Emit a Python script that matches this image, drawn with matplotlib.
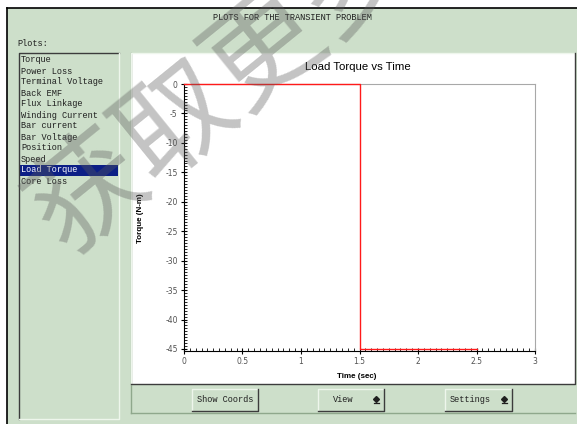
"""Load torque vs time — transient problem plot window (GUI screenshot)"""

import matplotlib
matplotlib.use("Agg")
import matplotlib.pyplot as plt
from matplotlib.patches import Rectangle
from matplotlib.ticker import MultipleLocator

W, H = 577, 424

# ── Data ────────────────────────────────────────────────────────────────────

time_s = [0.0, 1.5, 1.5, 2.5]
load_torque = [0.0, 0.0, -45.0, -45.0]

x_ticks = [0, 0.5, 1, 1.5, 2, 2.5, 3]
x_tick_labels = ["0", "0.5", "1", "1.5", "2", "2.5", "3"]
y_ticks = [0, -5, -10, -15, -20, -25, -30, -35, -40, -45]
y_tick_labels = ["0", "-5", "-10", "-15", "-20", "-25", "-30", "-35", "-40", "-45"]

plot_items = [
    "Torque", "Power Loss", "Terminal Voltage", "Back EMF", "Flux Linkage",
    "Winding Current", "Bar current", "Bar Voltage", "Position", "Speed",
    "Load Torque", "Core Loss",
]
selected_item = "Load Torque"
buttons = ["Show Coords", "View", "Settings"]

# ── Style ───────────────────────────────────────────────────────────────────

GREEN = "#cddfca"
DARK = "#3c3c3c"
LIGHT = "#eef6ec"
MONO = ["Liberation Mono", "DejaVu Sans Mono"]
SANS = ["Liberation Sans", "DejaVu Sans"]


def frac(x0, y0, x1, y1):
    """pixel box (top-down) -> figure fraction [l, b, w, h]"""
    return [x0 / W, (H - y1) / H, (x1 - x0) / W, (y1 - y0) / H]


def bevel(ax, x0, y0, x1, y1, sunken=False, lw=1.0):
    hi, lo = (DARK, LIGHT) if sunken else (LIGHT, DARK)
    ax.plot([x0, x0, x1], [y1, y0, y0], color=hi, lw=lw, zorder=3)
    ax.plot([x0, x1, x1], [y1, y1, y0], color=lo, lw=lw, zorder=3)


fig = plt.figure(figsize=(W / 100, H / 100), dpi=100)
fig.patch.set_facecolor("white")

# GUI layer in pixel coordinates
gui = fig.add_axes([0, 0, 1, 1])
gui.set_xlim(0, W)
gui.set_ylim(H, 0)
gui.axis("off")

gui.add_patch(Rectangle((7, 8), W - 7, H - 8, facecolor=GREEN, edgecolor="none"))
gui.plot([7, W], [8, 8], color="black", lw=1.2)
gui.plot([7, 7], [8, H], color="black", lw=1.2)

gui.text(292, 17, "PLOTS FOR THE TRANSIENT PROBLEM", family=MONO, fontsize=6.2,
         color="#202020", ha="center", va="center")
gui.text(17, 44, "Plots:", family=MONO, fontsize=6.2, color="#202020",
         ha="left", va="center")

# list box
gui.add_patch(Rectangle((19, 53), 100, 366, facecolor=GREEN, edgecolor="none"))
bevel(gui, 19, 53, 119, 419, sunken=True)
for i, item in enumerate(plot_items):
    y = 60 + i * 11
    if item == selected_item:
        gui.add_patch(Rectangle((20, y - 5.5), 98, 11, facecolor="#0c1f86",
                                edgecolor="none", zorder=2))
        col = "white"
    else:
        col = "#202020"
    gui.text(21, y, item, family=MONO, fontsize=6.2, color=col,
             ha="left", va="center", zorder=4)

# plot panel + button bar
gui.add_patch(Rectangle((131, 53), 444, 331, facecolor="white", edgecolor="none"))
bevel(gui, 131, 53, 575, 384, sunken=False)
gui.plot([131, 131], [53, 413], color="#8fa88c", lw=1)
gui.plot([131, 575], [413, 413], color="#8fa88c", lw=1)

btn_boxes = [(192, 258), (318, 384), (445, 512)]
for label, (bx0, bx1) in zip(buttons, btn_boxes):
    gui.add_patch(Rectangle((bx0, 389), bx1 - bx0, 22, facecolor=GREEN,
                            edgecolor="none", zorder=2))
    bevel(gui, bx0, 389, bx1, 411, sunken=False)
    if label == "Show Coords":
        gui.text((bx0 + bx1) / 2, 400, label, family=MONO, fontsize=6.2,
                 color="#202020", ha="center", va="center", zorder=4)
    else:
        gui.text((bx0 + bx1) / 2 - 8, 400, label, family=MONO, fontsize=6.2,
                 color="#202020", ha="center", va="center", zorder=4)
        gui.plot([bx1 - 8], [398.5], marker="D", ms=3.0, color="#202020", zorder=4)
        gui.plot([bx1 - 10.5, bx1 - 5.5], [402.5, 402.5], color="#202020",
                 lw=0.9, zorder=4)

gui.text(358, 67, "Load Torque vs Time", family=SANS, fontsize=8.2,
         color="black", ha="center", va="center")
gui.text(357, 377, "Time (sec)", family=SANS, fontsize=5.8, weight="bold",
         color="black", ha="center", va="center")
gui.text(140, 218, "Torque (N-m)", family=SANS, fontsize=5.8, weight="bold",
         color="black", ha="center", va="center", rotation=90)

# ── Plot ────────────────────────────────────────────────────────────────────

ax = fig.add_axes(frac(184, 84, 535, 351))
ax.set_facecolor("white")
ax.plot(time_s, load_torque, color="#ff1a1a", lw=1.0, clip_on=False, zorder=5)
ax.set_xlim(0, 3)
ax.set_ylim(-45.35, 0)

ax.set_xticks(x_ticks)
ax.set_xticklabels(x_tick_labels)
ax.set_yticks(y_ticks)
ax.set_yticklabels(y_tick_labels)
ax.xaxis.set_minor_locator(MultipleLocator(0.05))
ax.yaxis.set_minor_locator(MultipleLocator(0.5))
ax.tick_params(axis="both", which="major", direction="inout", length=5,
               width=0.8, labelsize=5.5, labelcolor="#505050", pad=2)
ax.tick_params(axis="x", which="major", pad=1.5)
ax.tick_params(axis="both", which="minor", direction="in", length=2, width=0.6)

ax.spines["left"].set_color("black")
ax.spines["bottom"].set_color("black")
ax.spines["top"].set_color("#a8a8a8")
ax.spines["right"].set_color("#a8a8a8")

# watermark
fig.text(222 / W, 1 - 86 / H, "获取更多", rotation=39, fontsize=82,
         family=["Noto Sans CJK SC", "DejaVu Sans"], weight="medium",
         color="#5a5a5a", alpha=0.36, ha="center", va="center", zorder=20)

fig.savefig("out.png", dpi=100, facecolor=fig.get_facecolor())
